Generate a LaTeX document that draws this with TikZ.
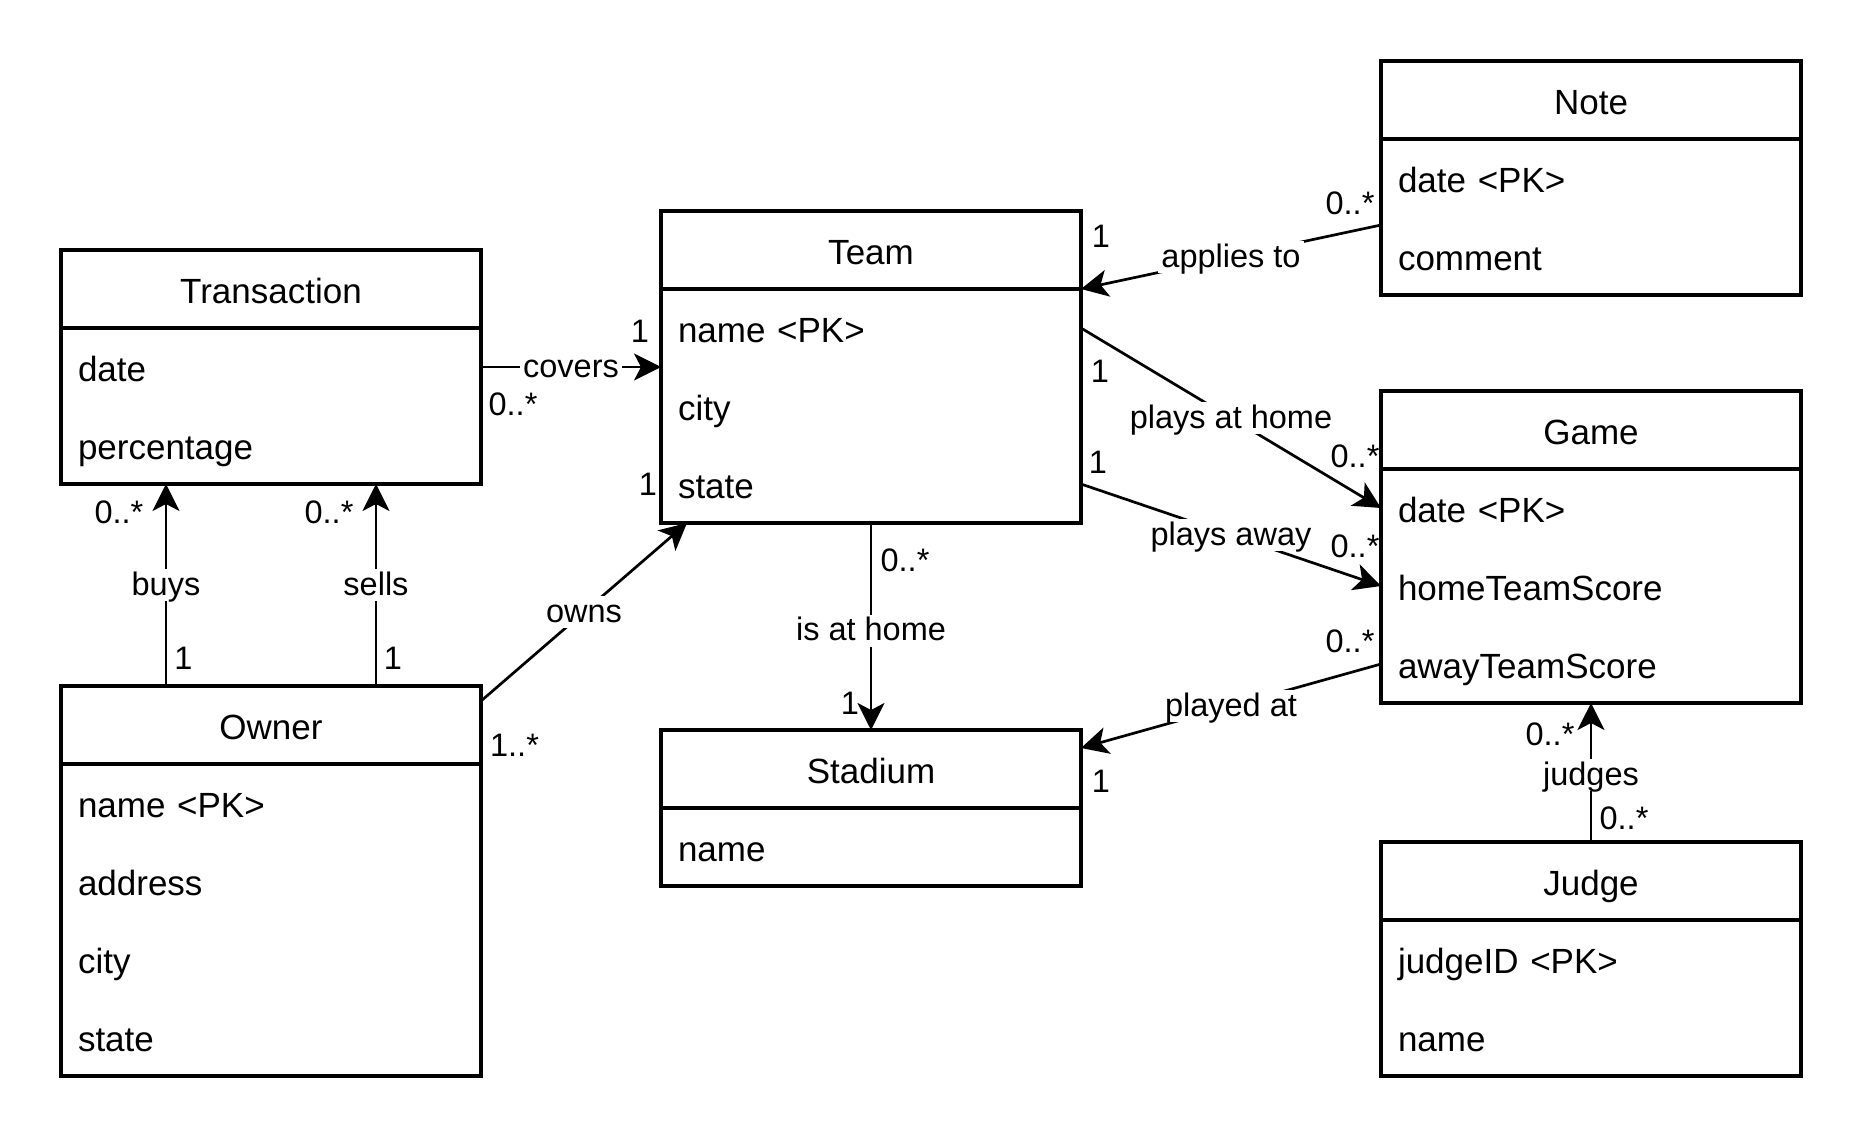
\documentclass[tikz,border=0pt]{standalone}
\usepackage{fontspec}
\setmainfont{Liberation Sans}
\usetikzlibrary{arrows.meta,calc}
\newcommand\boxfont{\fontsize{17.5pt}{21pt}\selectfont}
\newcommand\lblfont{\fontsize{16.25pt}{19.5pt}\selectfont}
\begin{document}
\begin{tikzpicture}[x=0.5pt,y=-0.5pt,
  boxline/.style={draw,line width=1.6pt},
  hdr/.style={boxline,anchor=north west,minimum width=210pt,minimum height=39pt,inner sep=0pt,outer sep=0pt,font=\boxfont,text height=14.5pt,text depth=0pt},
  row/.style={anchor=north west,minimum width=210pt,minimum height=39pt,inner xsep=8.5pt,inner ysep=0pt,outer sep=0pt,text width=193pt,align=left,text height=14pt,text depth=0pt,font=\boxfont},
  lbl/.style={fill=white,inner xsep=1.5pt,inner ysep=1.5pt,font=\lblfont,text height=11.5pt,text depth=1.5pt},
  mult/.style={anchor=base,inner sep=0pt,font=\lblfont},
  conn/.style={line width=1.35pt,-{Stealth[length=13.5pt,width=13.5pt,inset=3.5pt]}}]
\useasboundingbox (0,0) rectangle (1863,1146);
% Transaction
\node[hdr] (trans) at (61,250) {Transaction};
\node[row] (tdate) at (trans.south west) {date};
\node[row] (tperc) at (tdate.south west) {percentage};
\draw[boxline] (tdate.north west) rectangle (tperc.south east);
% Team
\node[hdr] (team) at (661,211) {Team};
\node[row] (tname) at (team.south west) {name <PK>};
\node[row] (tcity) at (tname.south west) {city};
\node[row] (tstate) at (tcity.south west) {state};
\draw[boxline] (tname.north west) rectangle (tstate.south east);
% Note
\node[hdr] (note) at (1381,61) {Note};
\node[row] (ndate) at (note.south west) {date <PK>};
\node[row] (ncomment) at (ndate.south west) {comment};
\draw[boxline] (ndate.north west) rectangle (ncomment.south east);
% Game
\node[hdr] (game) at (1381,391) {Game};
\node[row] (gdate) at (game.south west) {date <PK>};
\node[row] (ghome) at (gdate.south west) {homeTeamScore};
\node[row] (gaway) at (ghome.south west) {awayTeamScore};
\draw[boxline] (gdate.north west) rectangle (gaway.south east);
% Owner
\node[hdr] (owner) at (61,686) {Owner};
\node[row] (oname) at (owner.south west) {name <PK>};
\node[row] (oaddr) at (oname.south west) {address};
\node[row] (ocity) at (oaddr.south west) {city};
\node[row] (ostate) at (ocity.south west) {state};
\draw[boxline] (oname.north west) rectangle (ostate.south east);
% Stadium
\node[hdr] (stadium) at (661,730) {Stadium};
\node[row] (sname) at (stadium.south west) {name};
\draw[boxline] (sname.north west) rectangle (sname.south east);
% Judge
\node[hdr] (judge) at (1381,842) {Judge};
\node[row] (jid) at (judge.south west) {judgeID <PK>};
\node[row] (jname) at (jid.south west) {name};
\draw[boxline] (jid.north west) rectangle (jname.south east);
% connectors
\draw[conn] (tdate.east) -- node[lbl] (lcovers) {covers} (tname.south west);
\draw[conn] ([yshift=-4pt]ndate.south west) -- node[lbl] (lapplies) {applies to} (team.south east);
\draw[conn] (tname.east) -- node[lbl] (lhome) {plays at home} (gdate.west);
\draw[conn] (tstate.east) -- node[lbl] (laway) {plays away} (ghome.west);
\draw[conn] (gaway.west) -- node[lbl] (lplayed) {played at} ([yshift=-9pt]stadium.north east);
\draw[conn] (judge.north) -- node[lbl,yshift=-1.3pt] (ljudges) {judges} (gaway.south);
\draw[conn] (tstate.south) -- node[lbl,yshift=-2pt] (lisat) {is at home} (stadium.north);
\draw[conn] ([yshift=-7.5pt]owner.north east) -- node[lbl] (lowns) {owns} ([xshift=13pt]tstate.south west);
\draw[conn] ($(owner.north west)!0.25!(owner.north east)$) -- node[lbl] (lbuys) {buys} ($(tperc.south west)!0.25!(tperc.south east)$);
\draw[conn] ($(owner.north west)!0.75!(owner.north east)$) -- node[lbl] (lsells) {sells} ($(tperc.south west)!0.75!(tperc.south east)$);
% multiplicities
\node[mult] (m1) at (513,415) {0..*};
\node[mult] (m2) at (640,342) {1};
\node[mult] (m3) at (648,495) {1};
\node[mult] (m4) at (119,523) {0..*};
\node[mult] (m5) at (329,523) {0..*};
\node[mult] (m6) at (183.5,669) {1};
\node[mult] (m7) at (393,669) {1};
\node[mult] (m8) at (514.5,756) {1..*};
\node[mult] (m9) at (905,571) {0..*};
\node[mult] (m10) at (850,714) {1};
\node[mult] (m11) at (1350,214) {0..*};
\node[mult] (m12) at (1101,247) {1};
\node[mult] (m13) at (1100,382) {1};
\node[mult] (m14) at (1098,473) {1};
\node[mult] (m15) at (1355,467) {0..*};
\node[mult] (m16) at (1355,557) {0..*};
\node[mult] (m17) at (1350,652) {0..*};
\node[mult] (m18) at (1101,792) {1};
\node[mult] (m19) at (1550,745) {0..*};
\node[mult] (m20) at (1624,829) {0..*};
\end{tikzpicture}
\end{document}
